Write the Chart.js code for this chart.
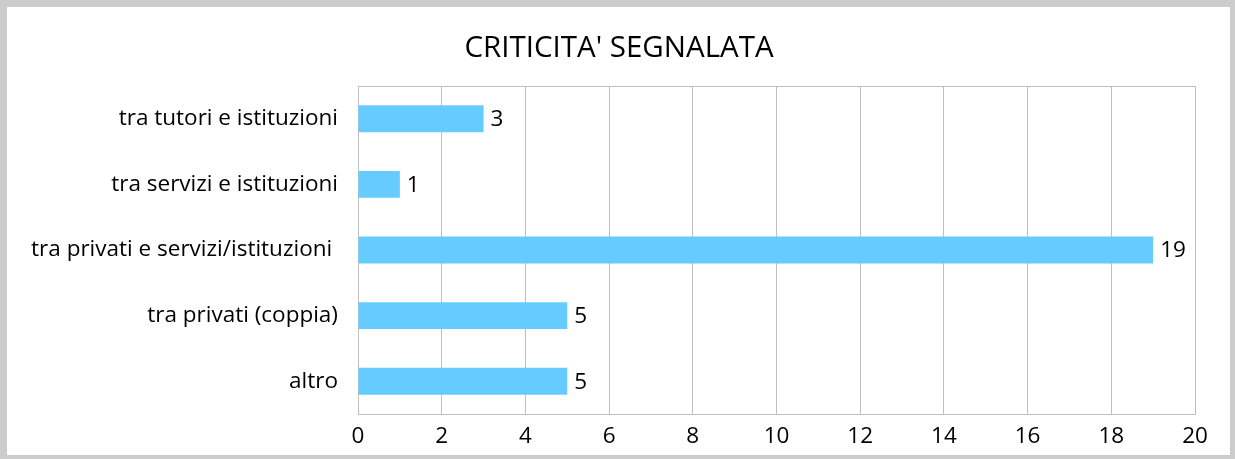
<!DOCTYPE html>
<html>
<head>
<meta charset="utf-8">
<script src="https://cdn.jsdelivr.net/npm/chart.js@4"></script>
<style>
  html, body { margin: 0; padding: 0; background: #fff; }
  #box {
    width: 1235px; height: 459px; box-sizing: border-box;
    border-style: solid; border-color: #cccccc;
    border-width: 7px 5px 4px 7px; background: #fff;
  }
  canvas { display: block; }
</style>
</head>
<body>
<div id="box"><canvas id="criticita" width="1223" height="448"></canvas></div>
<script>
const TITLE = "CRITICITA' SEGNALATA";
const categories = [
  "tra tutori e istituzioni",
  "tra servizi e istituzioni",
  "tra privati e servizi/istituzioni ",
  "tra privati (coppia)",
  "altro"
];
const values = [3, 1, 19, 5, 5];
const BAR_COLOR = "#66CCFF";
const FONT = "'Open Sans', sans-serif";
const TEXT_SIZE = 22.5;

// titolo centrato su tutta la larghezza
const chartTitle = {
  id: 'chartTitle',
  afterDraw(chart){
    const ctx = chart.ctx;
    ctx.save();
    ctx.font = "29.5px " + FONT;
    ctx.fillStyle = "#000";
    ctx.textAlign = "center";
    ctx.textBaseline = "middle";
    ctx.fillText(TITLE, 612, 42);
    ctx.restore();
  }
};

// etichette dei valori a destra delle barre
const valueLabels = {
  id: 'valueLabels',
  afterDatasetsDraw(chart){
    const ctx = chart.ctx;
    const meta = chart.getDatasetMeta(0);
    ctx.save();
    ctx.font = TEXT_SIZE + "px " + FONT;
    ctx.fillStyle = "#000";
    ctx.textAlign = "left";
    ctx.textBaseline = "middle";
    meta.data.forEach((bar, i) => {
      ctx.fillText(values[i], bar.x + 7, bar.y + 1);
    });
    ctx.restore();
  }
};

// bordo dell'area del grafico
const plotBorder = {
  id: 'plotBorder',
  beforeDatasetsDraw(chart){
    const {ctx, chartArea: a} = chart;
    ctx.save();
    ctx.strokeStyle = "#bfbfbf";
    ctx.lineWidth = 1;
    ctx.strokeRect(a.left + 0.5, a.top + 0.5, a.right - a.left, a.bottom - a.top);
    ctx.restore();
  }
};

function createChart(){
  return new Chart(document.getElementById('criticita'), {
    type: 'bar',
    data: {
      labels: categories,
      datasets: [{
        data: values,
        backgroundColor: BAR_COLOR,
        barPercentage: 0.41,
        categoryPercentage: 1
      }]
    },
    options: {
      indexAxis: 'y',
      responsive: false,
      animation: false,
      layout: { padding: { top: 79, right: 35, bottom: 6, left: 0 } },
      plugins: {
        legend: { display: false },
        tooltip: { enabled: false },
        title: { display: false }
      },
      scales: {
        x: {
          min: 0, max: 20,
          afterFit(scale){ scale.height = 35; },
          ticks: { stepSize: 2, color: "#000", padding: 9, font: { family: FONT, size: TEXT_SIZE } },
          grid: { color: "#bfbfbf", drawTicks: false },
          border: { color: "#bfbfbf" }
        },
        y: {
          afterFit(scale){ scale.width = 351; },
          ticks: { color: "#000", padding: 20, font: { family: FONT, size: TEXT_SIZE } },
          grid: { display: false, drawTicks: false },
          border: { color: "#bfbfbf" }
        }
      }
    },
    plugins: [plotBorder, valueLabels, chartTitle]
  });
}

const myChart = createChart();
</script>
</body>
</html>
